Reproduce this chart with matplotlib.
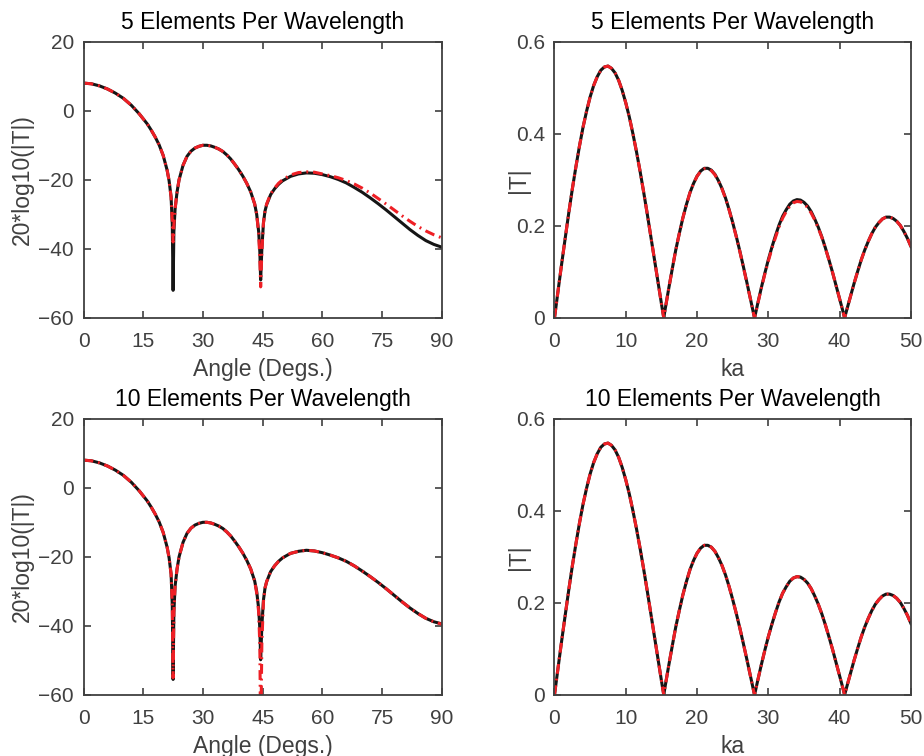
import matplotlib
matplotlib.use("Agg")
import matplotlib.pyplot as plt

plt.rcParams['font.family'] = ['Liberation Sans', 'DejaVu Sans']

# angle grid (degrees) shared by the left-hand panels
angle = [0, 2, 4, 6, 8, 10, 12, 14, 16, 17, 18, 19, 20, 21, 21.5, 22, 22.3, 22.5,
         22.7, 23, 23.5, 24, 25, 26, 27, 28, 29, 30, 31, 32, 33, 34, 35, 36, 37,
         38, 39, 40, 41, 42, 43, 43.5, 44, 44.3, 44.5, 44.8, 45.2, 45.6, 46, 47,
         48, 49, 50, 52, 54, 56, 58, 60, 62, 64, 66, 68, 70, 72, 74, 76, 78, 80,
         82, 84, 86, 88, 90]

# 5 elements per wavelength, dB
db_exact_5 = [8.0, 7.8, 7.2, 6.3, 5.1, 3.6, 1.6, -0.9, -3.8, -5.6, -7.6, -9.9, -12.9,
              -17.2, -20.3, -25.0, -33.0, -52.0, -35.0, -28.5, -23.5, -20.0, -15.8,
              -13.2, -11.7, -10.8, -10.3, -10.0, -10.0, -10.2, -10.6, -11.1, -11.8,
              -12.8, -14.0, -15.5, -17.1, -18.9, -21.0, -23.5, -27.0, -30.0, -35.0,
              -41.0, -49.0, -40.0, -32.5, -29.0, -27.2, -24.3, -22.6, -21.3, -20.3,
              -19.0, -18.3, -18.0, -18.1, -18.5, -19.1, -19.9, -20.9, -22.2, -23.6,
              -25.2, -26.9, -28.7, -30.6, -32.5, -34.4, -36.1, -37.6, -38.7, -39.5]
db_num_5 = [8.0, 7.8, 7.2, 6.3, 5.1, 3.6, 1.6, -0.9, -3.8, -5.6, -7.6, -9.9, -12.9,
            -17.2, -20.3, -25.0, -32.0, -38.0, -33.0, -28.5, -23.5, -20.0, -15.8,
            -13.2, -11.7, -10.8, -10.3, -10.0, -10.0, -10.2, -10.6, -11.1, -11.8,
            -12.8, -14.0, -15.5, -17.1, -18.9, -21.0, -23.5, -27.0, -30.0, -35.5,
            -43.0, -51.0, -41.0, -32.5, -29.0, -27.0, -24.1, -22.4, -21.0, -20.0,
            -18.6, -17.9, -17.7, -17.8, -18.3, -18.8, -19.4, -20.2, -21.2, -22.4,
            -23.8, -25.4, -27.0, -28.7, -30.4, -32.0, -33.5, -34.8, -35.9, -36.8]

# 10 elements per wavelength, dB
db_exact_10 = [8.0, 7.8, 7.2, 6.3, 5.1, 3.6, 1.6, -0.9, -3.8, -5.6, -7.6, -9.9, -12.9,
               -17.2, -20.3, -25.0, -34.0, -55.5, -36.0, -28.5, -23.5, -20.0, -15.8,
               -13.2, -11.7, -10.8, -10.3, -10.0, -10.0, -10.2, -10.6, -11.1, -11.8,
               -12.8, -14.0, -15.5, -17.1, -18.9, -21.0, -23.5, -27.0, -30.0, -35.0,
               -41.0, -49.8, -40.0, -32.5, -29.0, -27.2, -24.3, -22.6, -21.3, -20.3,
               -19.0, -18.4, -18.1, -18.3, -18.8, -19.5, -20.3, -21.3, -22.6, -24.1,
               -25.7, -27.4, -29.2, -31.1, -33.0, -34.8, -36.4, -37.8, -38.8, -39.4]
db_num_10 = [8.0, 7.8, 7.2, 6.3, 5.1, 3.6, 1.6, -0.9, -3.8, -5.6, -7.6, -9.9, -12.9,
             -17.2, -20.3, -25.0, -34.0, -55.0, -36.0, -28.5, -23.5, -20.0, -15.8,
             -13.2, -11.7, -10.8, -10.3, -10.0, -10.0, -10.2, -10.6, -11.1, -11.8,
             -12.8, -14.0, -15.5, -17.1, -18.9, -21.0, -23.5, -27.0, -30.5, -36.0,
             -46.0, -75.0, -45.0, -33.0, -29.0, -27.2, -24.3, -22.6, -21.3, -20.3,
             -19.0, -18.4, -18.1, -18.3, -18.8, -19.5, -20.3, -21.3, -22.6, -24.1,
             -25.7, -27.4, -29.2, -31.1, -33.0, -34.8, -36.4, -37.8, -38.8, -39.5]

# ka grid shared by the right-hand panels
ka = [0, 0.5, 1, 1.5, 2, 2.5, 3, 3.5, 4, 4.5, 5, 5.5, 6, 6.5, 7, 7.5, 8, 8.5, 9, 9.5,
      10, 10.5, 11, 11.5, 12, 12.5, 13, 13.5, 14, 14.5, 15, 15.33, 15.5, 16, 16.5,
      17, 17.5, 18, 18.5, 19, 19.5, 20, 20.5, 21, 21.5, 22, 22.5, 23, 23.5, 24,
      24.5, 25, 25.5, 26, 26.5, 27, 27.5, 28, 28.06, 28.5, 29, 29.5, 30, 30.5, 31,
      31.5, 32, 32.5, 33, 33.5, 34, 34.5, 35, 35.5, 36, 36.5, 37, 37.5, 38, 38.5,
      39, 39.5, 40, 40.5, 40.69, 41, 41.5, 42, 42.5, 43, 43.5, 44, 44.5, 45, 45.5,
      46, 46.5, 47, 47.5, 48, 48.5, 49, 49.5, 50]
t_exact = [0, 0.059, 0.117, 0.173, 0.228, 0.280, 0.328, 0.373, 0.414, 0.449, 0.480,
           0.505, 0.524, 0.538, 0.545, 0.547, 0.542, 0.532, 0.516, 0.494, 0.467,
           0.436, 0.400, 0.361, 0.319, 0.274, 0.227, 0.178, 0.129, 0.080, 0.031, 0,
           0.017, 0.062, 0.105, 0.147, 0.183, 0.217, 0.246, 0.272, 0.292, 0.308,
           0.319, 0.325, 0.325, 0.321, 0.312, 0.298, 0.281, 0.260, 0.235, 0.207,
           0.177, 0.145, 0.111, 0.076, 0.040, 0.004, 0, 0.031, 0.065, 0.097, 0.127,
           0.154, 0.179, 0.202, 0.221, 0.235, 0.247, 0.254, 0.257, 0.256, 0.251,
           0.243, 0.231, 0.215, 0.197, 0.176, 0.152, 0.126, 0.099, 0.070, 0.041,
           0.012, 0, 0.018, 0.046, 0.074, 0.100, 0.125, 0.147, 0.166, 0.183, 0.197,
           0.207, 0.215, 0.219, 0.219, 0.216, 0.210, 0.201, 0.188, 0.173, 0.155]
t_num_5 = [0, 0.059, 0.117, 0.173, 0.228, 0.280, 0.328, 0.373, 0.414, 0.449, 0.480,
           0.505, 0.524, 0.538, 0.545, 0.547, 0.542, 0.532, 0.516, 0.494, 0.467,
           0.436, 0.400, 0.361, 0.319, 0.274, 0.227, 0.178, 0.129, 0.080, 0.031, 0,
           0.017, 0.062, 0.105, 0.147, 0.183, 0.217, 0.246, 0.272, 0.292, 0.308,
           0.318, 0.324, 0.324, 0.320, 0.311, 0.297, 0.280, 0.259, 0.234, 0.206,
           0.176, 0.144, 0.110, 0.075, 0.040, 0.004, 0, 0.030, 0.064, 0.095, 0.124,
           0.151, 0.175, 0.198, 0.217, 0.231, 0.243, 0.250, 0.253, 0.252, 0.248,
           0.240, 0.228, 0.213, 0.195, 0.175, 0.151, 0.126, 0.099, 0.070, 0.041,
           0.012, 0, 0.018, 0.046, 0.074, 0.100, 0.125, 0.147, 0.166, 0.183, 0.197,
           0.207, 0.215, 0.219, 0.219, 0.216, 0.210, 0.201, 0.188, 0.173, 0.155]
t_num_10 = t_exact

black = '#151515'
red = '#ee1f25'
axcol = '#404040'
dashdot = (3.2, 1.6, 0.6, 1.6)

fig = plt.figure(figsize=(9.24, 7.56), dpi=100)
positions = [[0.0904, 0.5794, 0.3877, 0.3655], [0.6001, 0.5794, 0.3858, 0.3655],
             [0.0904, 0.0807, 0.3877, 0.3655], [0.6001, 0.0807, 0.3858, 0.3655]]
titles = ['5 Elements Per Wavelength', '5 Elements Per Wavelength',
          '10 Elements Per Wavelength', '10 Elements Per Wavelength']

axes = [fig.add_axes(p) for p in positions]

axes[0].plot(angle, db_exact_5, color=black, lw=2.2)
axes[0].plot(angle, db_num_5, color=red, lw=2.2, dashes=dashdot)
axes[2].plot(angle, db_exact_10, color=black, lw=2.2)
axes[2].plot(angle, db_num_10, color=red, lw=2.2, dashes=dashdot)
axes[1].plot(ka, t_exact, color=black, lw=2.2)
axes[1].plot(ka, t_num_5, color=red, lw=2.2, dashes=dashdot)
axes[3].plot(ka, t_exact, color=black, lw=2.2)
axes[3].plot(ka, t_num_10, color=red, lw=2.2, dashes=dashdot)

for i, ax in enumerate(axes):
    ax.set_title(titles[i], fontsize=16.5, color='black', pad=9)
    if i % 2 == 0:
        ax.set_xlim(0, 90)
        ax.set_ylim(-60, 20)
        ax.set_xticks([0, 15, 30, 45, 60, 75, 90])
        ax.set_yticks([-60, -40, -20, 0, 20])
        ax.set_xlabel('Angle (Degs.)', fontsize=16.5, color=axcol, labelpad=5)
        ax.set_ylabel('20*log10(|T|)', fontsize=16.5, color=axcol)
        ax.yaxis.set_label_coords(-0.138, 0.5)
    else:
        ax.set_xlim(0, 50)
        ax.set_ylim(0, 0.6)
        ax.set_xticks([0, 10, 20, 30, 40, 50])
        ax.set_yticks([0, 0.2, 0.4, 0.6])
        ax.set_yticklabels(['0', '0.2', '0.4', '0.6'])
        ax.set_xlabel('ka', fontsize=16.5, color=axcol, labelpad=5)
        ax.set_ylabel('|T|', fontsize=16.5, color=axcol)
        ax.yaxis.set_label_coords(-0.069, 0.5)
    ax.tick_params(direction='in', length=5, width=1.2, colors=axcol, labelsize=15,
                   top=True, right=True)
    ax.tick_params(axis='x', pad=10)
    ax.tick_params(axis='y', pad=7)
    for s in ax.spines.values():
        s.set_color(axcol)
        s.set_linewidth(1.3)

fig.savefig('out.png', dpi=100)
